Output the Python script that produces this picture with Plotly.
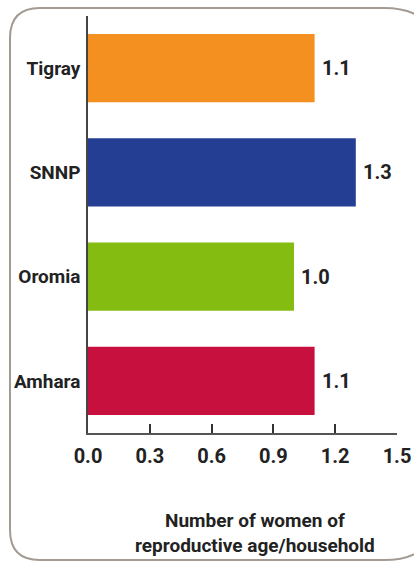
import plotly.graph_objects as go

categories = ["Amhara", "Oromia", "SNNP", "Tigray"]
values = [1.1, 1.0, 1.3, 1.1]
labels = ["1.1", "1.0", "1.3", "1.1"]
colors = ["#C8103E", "#84BC12", "#233E93", "#F39020"]
tick_vals = [0.0, 0.3, 0.6, 0.9, 1.2, 1.5]
tick_text = ["0.0", "0.3", "0.6", "0.9", "1.2", "1.5"]
axis_title = "Number of women of<br>reproductive age/household"

FONT = "Roboto, Liberation Sans, sans-serif"
W, H = 414, 561
L, R, T, B = 88, 17, 16, 128

fig = go.Figure(go.Bar(
    x=values, y=categories, orientation="h",
    marker=dict(color=colors, line=dict(width=0)),
    width=0.654, hoverinfo="skip",
))

for c, v, t in zip(categories, values, labels):
    fig.add_annotation(x=v, y=c, text=f"<b>{t}</b>", showarrow=False,
                       xanchor="left", yanchor="middle", xshift=5,
                       font=dict(family=FONT, size=20, color="#222"))

# rounded border in paper coordinates
pw, ph = W - L - R, H - T - B
def px(x): return (x - L) / pw
def py(y): return (H - B - y) / ph
x0, y0, y1 = 10, 8, 560
x1, rr = 440, 56
r = 30
path = (f"M {px(x0+r)},{py(y0)} L {px(x1-rr)},{py(y0)} "
        f"Q {px(x1)},{py(y0)} {px(x1)},{py(y0+rr)} "
        f"L {px(x1)},{py(y1-rr)} Q {px(x1)},{py(y1)} {px(x1-rr)},{py(y1)} "
        f"L {px(x0+r)},{py(y1)} Q {px(x0)},{py(y1)} {px(x0)},{py(y1-r)} "
        f"L {px(x0)},{py(y0+r)} Q {px(x0)},{py(y0)} {px(x0+r)},{py(y0)} Z")
fig.add_shape(type="path", path=path, xref="paper", yref="paper",
              line=dict(color="#A39A92", width=2), layer="below")

fig.add_annotation(x=px(255), y=py(533), xref="paper", yref="paper",
                   text=f"<b>{axis_title}</b>", showarrow=False,
                   font=dict(family=FONT, size=19, color="#222"),
                   align="center", xanchor="center", yanchor="middle")

fig.update_layout(
    width=W, height=H, margin=dict(l=L, r=R, t=T, b=B, autoexpand=False),
    paper_bgcolor="white", plot_bgcolor="white", showlegend=False,
    font=dict(family=FONT, color="#222"),
    xaxis=dict(range=[0, 1.5], tickvals=tick_vals, ticktext=[f"<b>{t}</b>" for t in tick_text],
               ticks="inside", ticklen=9, tickwidth=2, tickcolor="#333",
               showline=True, linecolor="#555", linewidth=1.5, showgrid=False,
               zeroline=False, tickfont=dict(family=FONT, size=20, color="#222"),
               ticklabelstandoff=4, fixedrange=True, automargin=False),
    yaxis=dict(range=[-0.5, 3.5], showline=True, linecolor="#444", linewidth=1.5,
               showgrid=False, zeroline=False, ticks="",
               ticktext=[f"<b>{c}</b>" for c in categories], tickvals=categories,
               tickfont=dict(family=FONT, size=19, color="#222"),
               ticklabelstandoff=2, fixedrange=True, automargin=False),
)

fig.write_html("out.html", config={"displayModeBar": False},
               post_script="document.body.style.margin='0';")
